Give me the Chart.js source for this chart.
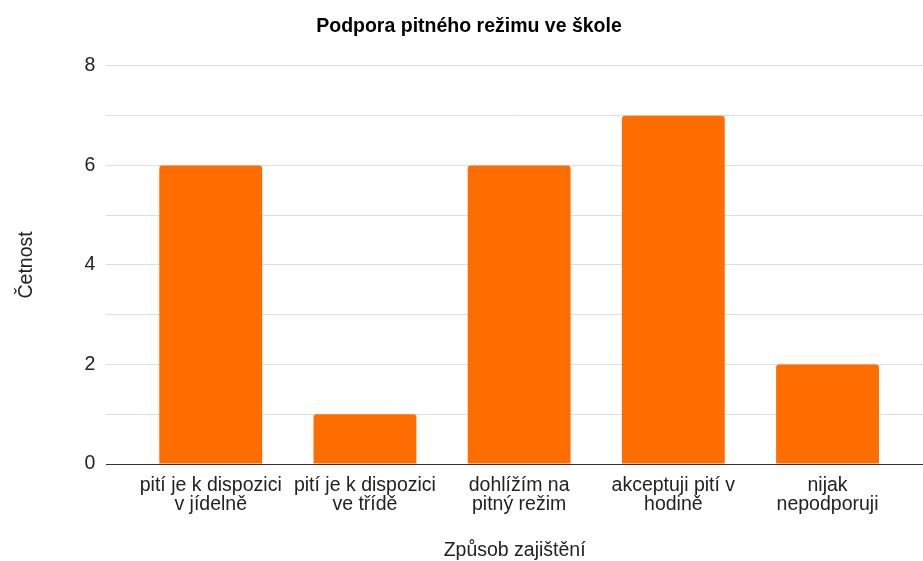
<!DOCTYPE html>
<html>
<head>
<meta charset="utf-8">
<script src="https://cdn.jsdelivr.net/npm/chart.js@4"></script>
<style>
    body { margin: 0; background: #fff; }
    #wrap { width: 923px; height: 561px; }
</style>
</head>
<body>
<div id="wrap"><canvas id="chart" width="923" height="561"></canvas></div>
<script>
// Chart data
const categories = [
    ['pití je k dispozici', 'v jídelně'],
    ['pití je k dispozici', 've třídě'],
    ['dohlížím na', 'pitný režim'],
    ['akceptuji pití v', 'hodině'],
    ['nijak', 'nepodporuji']
];
const counts = [6, 1, 6, 7, 2];
const yTicks = [0, 2, 4, 6, 8];

const FONT = 'Liberation Sans';
const ctx = document.getElementById('chart').getContext('2d');

new Chart(ctx, {
    type: 'bar',
    data: {
        datasets: [{
            label: 'Četnost',
            data: counts.map((v, i) => ({ x: i, y: v })),
            backgroundColor: '#ff6d01',
            borderRadius: { topLeft: 3, topRight: 3 },
            borderSkipped: 'start',
            categoryPercentage: 1,
            barPercentage: 0.667
        }]
    },
    options: {
        responsive: false,
        animation: false,
        layout: { padding: { left: 15, right: 0, top: 0, bottom: 0 } },
        plugins: {
            legend: { display: false },
            tooltip: { enabled: false },
            title: {
                display: true,
                text: 'Podpora pitného režimu ve škole',
                color: '#000',
                font: { family: FONT, size: 19.5, weight: 'bold' },
                padding: { top: 15, bottom: 27.5 }
            }
        },
        scales: {
            x: {
                type: 'linear',
                min: -0.6775,
                max: 4.619,
                offset: false,
                grid: { display: false, drawTicks: false },
                border: { display: true, color: '#333', width: 1 },
                afterBuildTicks: axis => {
                    axis.ticks = categories.map((c, i) => ({ value: i }));
                },
                ticks: {
                    autoSkip: false,
                    maxRotation: 0,
                    color: '#222',
                    padding: 11.5,
                    font: { family: FONT, size: 19.5, lineHeight: 1.0 },
                    callback: value => categories[value] || ''
                },
                title: {
                    display: true,
                    text: 'Způsob zajištění',
                    color: '#222',
                    font: { family: FONT, size: 19.5, lineHeight: 1.0 },
                    padding: { top: 14.5, bottom: 1 }
                }
            },
            y: {
                min: 0,
                max: 8,
                border: { display: false },
                grid: {
                    color: '#dedede',
                    lineWidth: 1,
                    drawTicks: false
                },
                ticks: {
                    stepSize: 1,
                    color: '#222',
                    padding: 11,
                    font: { family: FONT, size: 19.5 },
                    callback: value => yTicks.includes(value) ? value : ''
                },
                title: {
                    display: true,
                    text: 'Četnost',
                    color: '#222',
                    font: { family: FONT, size: 19.5 },
                    padding: { top: 0, bottom: 35 }
                }
            }
        }
    }
});
</script>
</body>
</html>
